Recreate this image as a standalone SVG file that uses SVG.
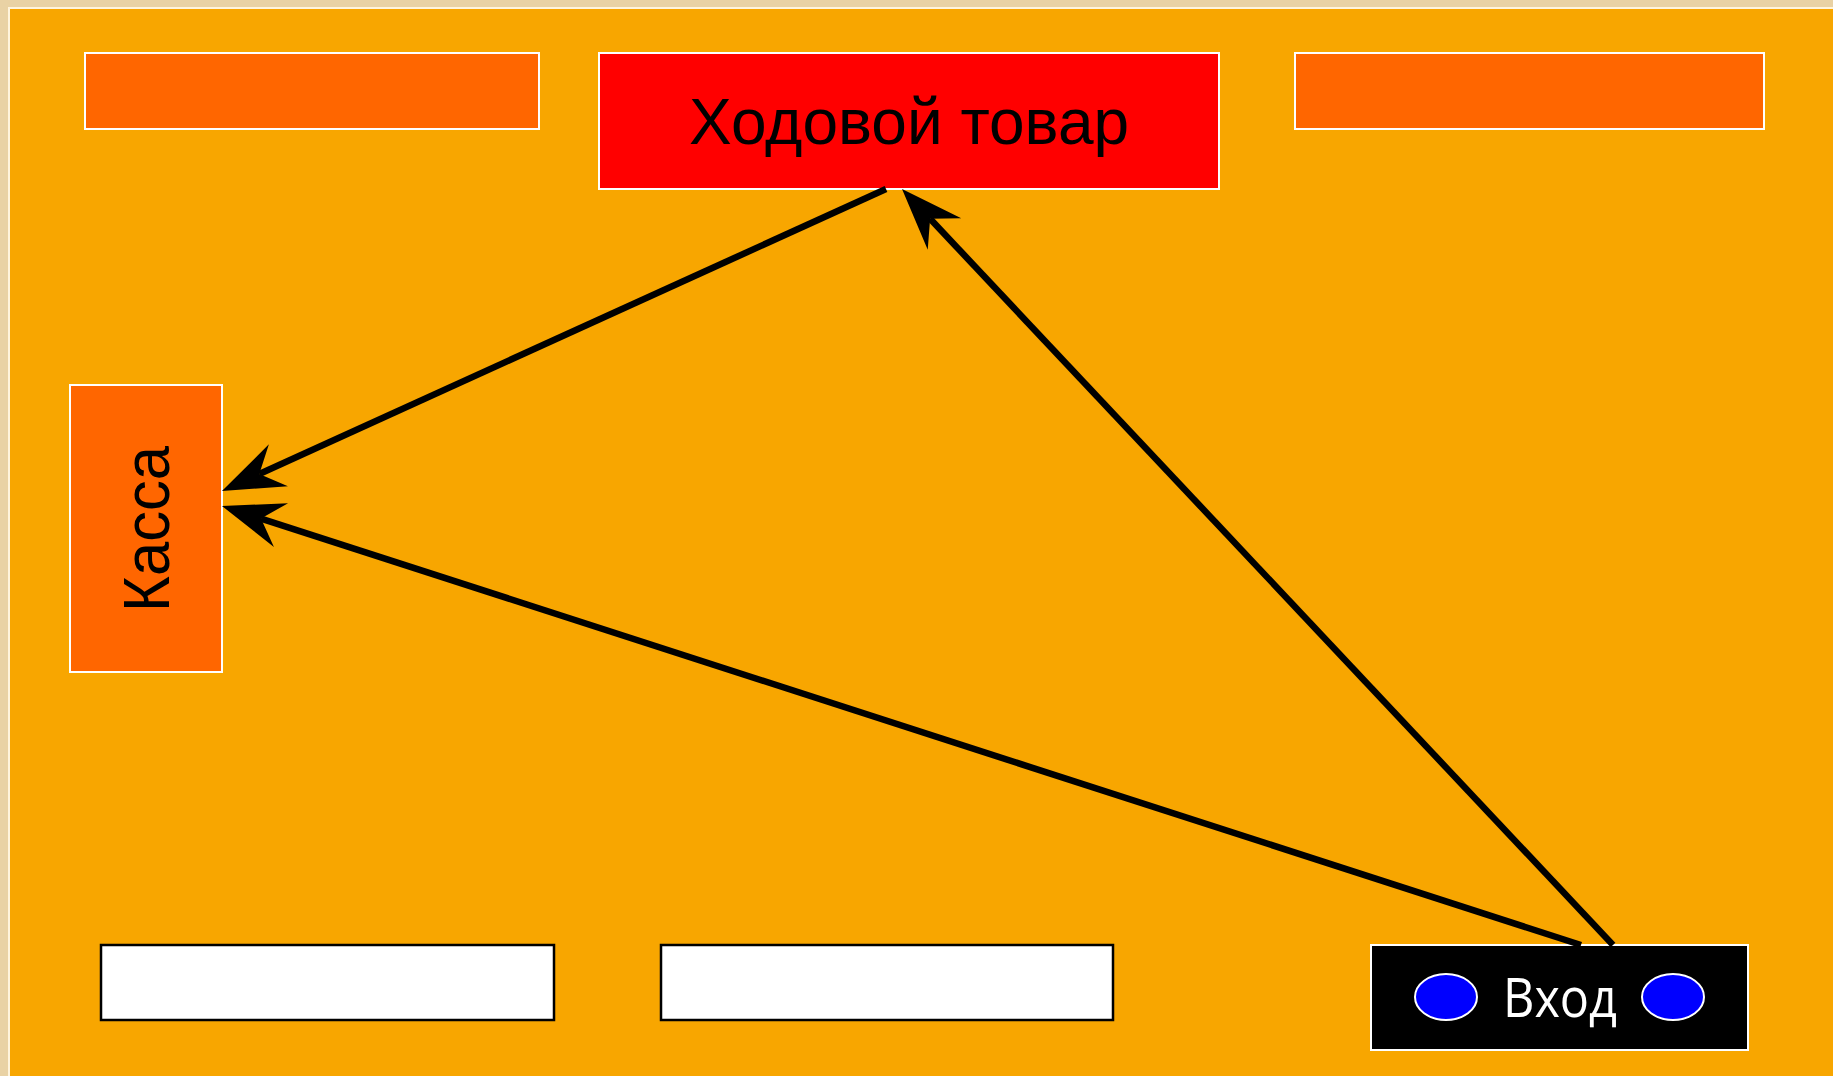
<svg xmlns="http://www.w3.org/2000/svg" width="1833" height="1076" viewBox="0 0 1833 1076">
<style>
.bg{fill:#E9D2A4}
.stage{fill:#F8A600;stroke:#FFF4DC;stroke-width:2}
.shelf{fill:#FF6600;stroke:#FFFFFF;stroke-width:2}
.hot{fill:#FF0000;stroke:#FFFFFF;stroke-width:2}
.blank{fill:#FFFFFF;stroke:#000000;stroke-width:2.5}
.door{fill:#000000;stroke:#FFFFFF;stroke-width:2}
.lamp{fill:#0000FF;stroke:#FFFFFF;stroke-width:2}
.lbl{font-family:"Liberation Sans",Arial,sans-serif;fill:#000000}
.lblw{font-family:"Open Sans","Liberation Sans",sans-serif;fill:#FFFFFF}
.conn{stroke:#000000;stroke-width:6.5;fill:none;marker-end:url(#ah)}
</style>
<defs>
<marker id="ah" markerUnits="userSpaceOnUse" viewBox="-70 -30 80 60" markerWidth="80" markerHeight="60" refX="-41" refY="0" orient="auto" overflow="visible">
<path d="M0,0 L-62,-23 L-41,0 L-62,23 Z" fill="#000000"/>
</marker>
</defs>
<rect class="bg" x="0" y="0" width="1833" height="1076"/>
<rect class="stage" x="9" y="8" width="1830" height="1075"/>

<g id="shelf-top-left"><rect class="shelf" x="85" y="53" width="454" height="76"/></g>
<g id="hot-goods">
<rect class="hot" x="599" y="53" width="620" height="136"/>
<text class="lbl" x="909" y="144" font-size="64" text-anchor="middle">Ходовой товар</text>
</g>
<g id="shelf-top-right"><rect class="shelf" x="1295" y="53" width="469" height="76"/></g>
<g id="kassa">
<rect class="shelf" x="70" y="385" width="152" height="287"/>
<text class="lbl" transform="translate(169,529) rotate(-90)" font-size="64" text-anchor="middle" textLength="166" lengthAdjust="spacingAndGlyphs">Касса</text>
</g>
<g id="shelf-bottom-left"><rect class="blank" x="101" y="945" width="453" height="75"/></g>
<g id="shelf-bottom-mid"><rect class="blank" x="661" y="945" width="452" height="75"/></g>
<g id="entrance">
<rect class="door" x="1371" y="945" width="377" height="105"/>
<ellipse class="lamp" cx="1446" cy="997" rx="31" ry="23"/>
<ellipse class="lamp" cx="1673" cy="997" rx="31" ry="23"/>
<text class="lblw" x="1560" y="1017" font-size="54" text-anchor="middle" textLength="114" lengthAdjust="spacingAndGlyphs">Вход</text>
</g>

<g id="connectors">
<line class="conn" x1="886" y1="189" x2="259.3" y2="474"/>
<line class="conn" x1="1581" y1="945" x2="261" y2="518.6"/>
<line class="conn" x1="1613" y1="945" x2="930.1" y2="218.8"/>
</g>
</svg>
